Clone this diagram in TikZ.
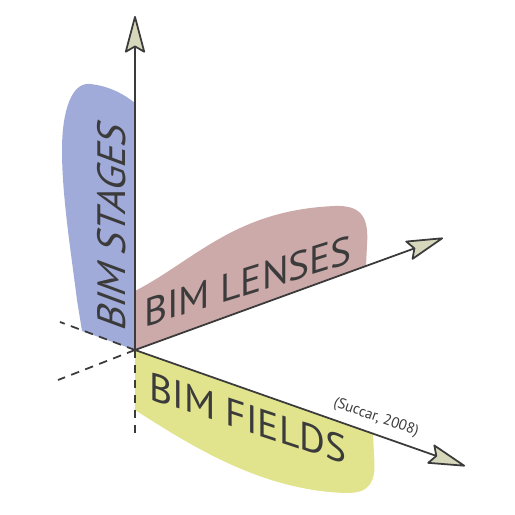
\documentclass[tikz,border=0pt]{standalone}
\usepackage{fontspec}
\setmainfont{PT Sans}
\usepackage{xcolor}
\usetikzlibrary{arrows.meta}
\definecolor{stagecol}{HTML}{A1ABD9}
\definecolor{lenscol}{HTML}{CBAAA9}
\definecolor{fieldcol}{HTML}{E1E48D}
\definecolor{tipcol}{HTML}{D6D7BB}
\definecolor{inkcol}{HTML}{3B3B3B}
\begin{document}
\begin{tikzpicture}[
  axis/.style={draw=inkcol,line width=1pt,
    -{Stealth[length=0.8cm,width=0.42cm,inset=0.12cm,round,fill=tipcol]}},
  hidden/.style={draw=inkcol,line width=1pt,dash pattern=on 0.17cm off 0.13cm},
  bigtext/.style={text=inkcol,font=\fontsize{22.5}{26}\selectfont,inner sep=0pt}]
  \useasboundingbox (0,0) rectangle (10.3,10.3);
  \coordinate (O) at (2.70,3.30);
  \coordinate (top) at (2.70,9.98);
  \coordinate (lens) at (8.86,5.54);
  \coordinate (field) at (9.30,0.98);
  \coordinate (backA) at (1.20,3.86);
  \coordinate (backB) at (1.16,2.70);
  \coordinate (down) at (2.70,1.60);
  % Vùng màu
  \fill[stagecol] (O) -- (1.64,3.68) -- (1.54,4.30)
    .. controls (1.40,5.40) and (1.24,6.40) .. (1.24,7.30)
    .. controls (1.24,8.10) and (1.44,8.66) .. (1.80,8.62)
    .. controls (2.20,8.58) and (2.50,8.40) .. (2.70,8.24) -- cycle;
  \fill[lenscol] (O) -- (2.70,4.48)
    .. controls (3.90,5.10) and (4.70,6.10) .. (6.70,6.18)
    .. controls (7.24,6.20) and (7.38,5.94) .. (7.34,5.40)
    -- (7.32,4.98) -- cycle;
  \fill[fieldcol] (O) -- (2.70,2.10)
    .. controls (3.80,1.40) and (5.20,0.50) .. (6.90,0.44)
    .. controls (7.46,0.42) and (7.52,0.74) .. (7.48,1.20)
    -- (7.46,1.62) -- cycle;
  % Trục và đường khuất
  \draw[hidden] (O) -- (backA);
  \draw[hidden] (O) -- (backB);
  \draw[hidden] (O) -- (down);
  \draw[axis] (O) -- (top);
  \draw[axis] (O) -- (lens);
  \draw[axis] (O) -- (field);
  % Chữ
  \node[bigtext,rotate=90,xslant=0.37] (stages) at (2.24,5.80) {BIM STAGES};
  \node[bigtext,yslant=0.31] (lenses) at (4.96,4.68) {BIM LENSES};
  \node[bigtext,yslant=-0.33] (fields) at (4.96,1.94) {BIM FIELDS};
  \node[text=inkcol,font=\fontsize{8.5}{10}\selectfont,rotate=-19.4] (src) at (7.52,1.95) {(Succar, 2008)};
\end{tikzpicture}
\end{document}
